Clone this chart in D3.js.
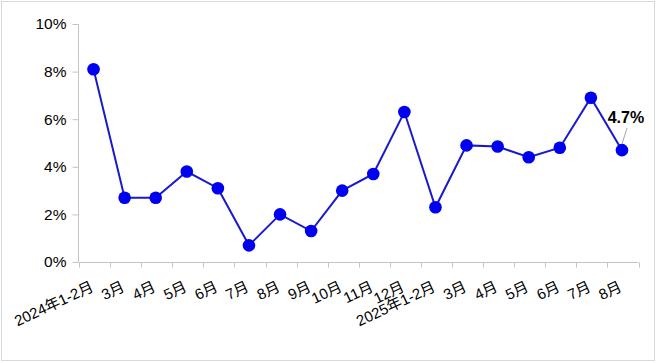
<!DOCTYPE html>
<html><head><meta charset="utf-8">
<script src="https://cdn.jsdelivr.net/npm/d3@7"></script>
<style>
html,body{margin:0;padding:0;background:#fff;}
svg{display:block;}
text{font-family:"Liberation Sans",Arial,"Noto Sans CJK SC",sans-serif;}
</style></head>
<body>
<svg id="chart" width="657" height="363"></svg>
<script>
const categories = ["2024年1-2月","3月","4月","5月","6月","7月","8月","9月","10月","11月","12月",
  "2025年1-2月","3月","4月","5月","6月","7月","8月"];
const values = [8.1,2.7,2.7,3.8,3.1,0.7,2.0,1.3,3.0,3.7,6.3,2.3,4.9,4.85,4.4,4.8,6.9,4.7];
const yTicks = [0,2,4,6,8,10];
const labelIndex = 17;
const labelText = "4.7%";

const svg = d3.select("#chart");
svg.append("rect").attr("x",1.5).attr("y",1.5).attr("width",653).attr("height",359)
  .attr("fill","#fff").attr("stroke","#d9d9d9").attr("stroke-width",1);

const keys = categories.map((c,i)=>i);
const x = d3.scaleBand().domain(keys).range([79,638.5]).padding(0);
const y = d3.scaleLinear().domain([0,10]).range([262,24]);
const axisColor = "#c4c4c4";

// Y axis
const gy = svg.append("g").attr("transform","translate(78.5,0)")
  .call(d3.axisLeft(y).tickValues(yTicks).tickFormat(d=>d+"%").tickSize(6).tickPadding(6));
gy.selectAll("path,line").attr("stroke",axisColor);
gy.select(".domain").attr("d","M0,"+y(10)+"V"+y(0));
gy.selectAll("text").attr("font-size",15.5).attr("fill","#000")
  .attr("font-family",'"Liberation Sans",Arial,sans-serif');

// X axis
const gx = svg.append("g").attr("transform","translate(0,262.5)")
  .call(d3.axisBottom(x).tickSize(0).tickFormat(i=>categories[i]));
gx.select(".domain").attr("stroke",axisColor).attr("d","M"+x.range()[0]+",0H"+x.range()[1]);
gx.selectAll(".tick text")
  .attr("font-size",15).attr("fill","#000")
  .attr("text-anchor","end")
  .attr("x",0).attr("y",0).attr("dy",0)
  .attr("transform","translate(0,28) rotate(-25)");
const bounds = keys.map(k=>x(k)).concat([x.range()[1]]);
gx.selectAll(".btick").data(bounds).join("line").attr("class","btick")
  .attr("x1",d=>Math.round(d)+0.5).attr("x2",d=>Math.round(d)+0.5)
  .attr("y1",0).attr("y2",5).attr("stroke",axisColor);

// Line
const cx = i => x(i) + x.bandwidth()/2 - 1;
const line = d3.line().x((d,i)=>cx(i)).y(d=>y(d));
svg.append("path").datum(values).attr("d",line)
  .attr("fill","none").attr("stroke","#1a1acc").attr("stroke-width",2);
svg.selectAll(".pt").data(values).join("circle").attr("class","pt")
  .attr("cx",(d,i)=>cx(i)).attr("cy",d=>y(d)).attr("r",6.3).attr("fill","#0000f0");

// Data label
const lx = cx(labelIndex), ly = y(values[labelIndex]);
svg.append("line").attr("x1",lx+5).attr("y1",ly-22).attr("x2",lx).attr("y2",ly-6)
  .attr("stroke","#a6a6a6").attr("stroke-width",1);
svg.append("text").attr("x",lx+4).attr("y",ly-27).attr("text-anchor","middle")
  .attr("font-size",16).attr("font-weight","bold").attr("fill","#000").text(labelText);
</script>
</body></html>
